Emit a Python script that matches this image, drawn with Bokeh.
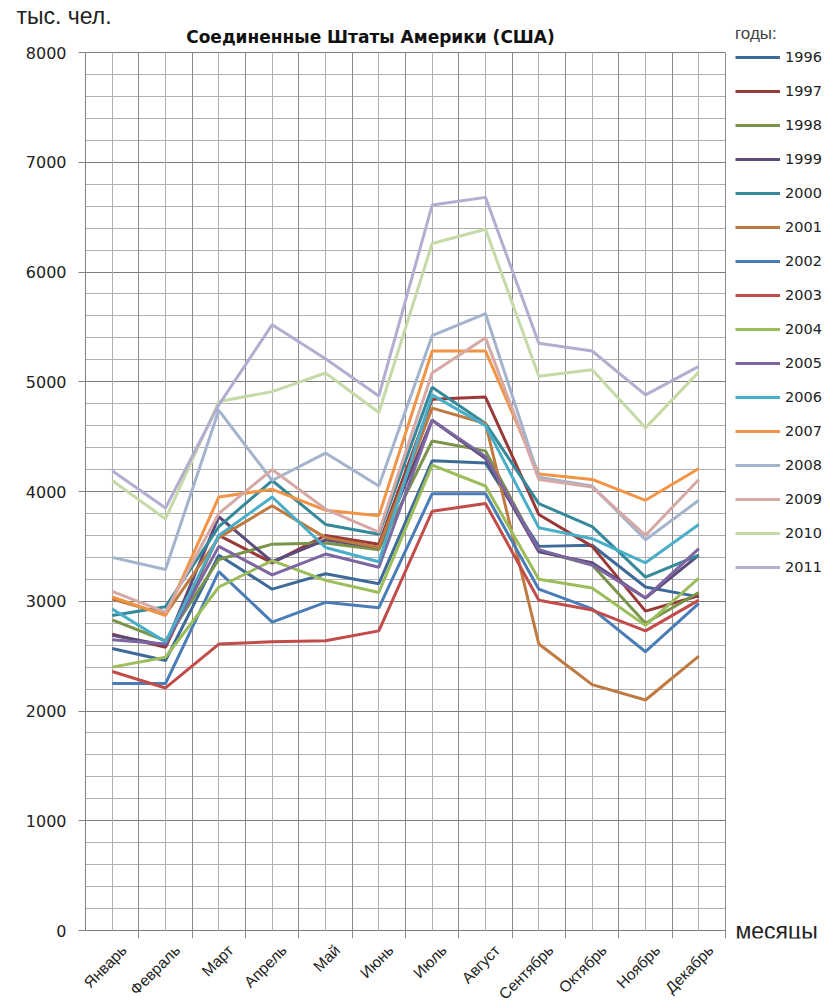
import math
from bokeh.plotting import figure
from bokeh.models import Range1d, FixedTicker, Label, Legend, LegendItem, Grid, Title
from bokeh.embed import file_html
from bokeh.resources import INLINE

months = ["Январь", "Февраль", "Март", "Апрель", "Май", "Июнь",
          "Июль", "Август", "Сентябрь", "Октябрь", "Ноябрь", "Декабрь"]
years = ["1996", "1997", "1998", "1999", "2000", "2001", "2002", "2003",
         "2004", "2005", "2006", "2007", "2008", "2009", "2010", "2011"]

v1996 = [2570, 2460, 3420, 3110, 3250, 3160, 4280, 4260, 3500, 3510, 3130, 3040]
v1997 = [2700, 2580, 3600, 3350, 3600, 3520, 4840, 4860, 3790, 3500, 2910, 3050]
v1998 = [2830, 2640, 3380, 3520, 3530, 3470, 4460, 4370, 3460, 3330, 2800, 3080]
v1999 = [2690, 2600, 3770, 3360, 3560, 3490, 4650, 4300, 3450, 3350, 3030, 3420]
v2000 = [2870, 2950, 3680, 4100, 3700, 3610, 4950, 4620, 3890, 3680, 3220, 3420]
v2001 = [3020, 2880, 3580, 3870, 3580, 3490, 4760, 4620, 2610, 2240, 2100, 2500]
v2002 = [2250, 2250, 3270, 2810, 2990, 2940, 3980, 3980, 3110, 2930, 2540, 2980]
v2003 = [2360, 2210, 2610, 2630, 2640, 2730, 3820, 3890, 3010, 2920, 2730, 3010]
v2004 = [2400, 2490, 3130, 3370, 3190, 3080, 4240, 4050, 3200, 3120, 2780, 3210]
v2005 = [2650, 2610, 3500, 3240, 3430, 3310, 4650, 4320, 3470, 3330, 3030, 3480]
v2006 = [2930, 2630, 3600, 3950, 3490, 3360, 4880, 4600, 3670, 3570, 3350, 3700]
v2007 = [3040, 2870, 3950, 4020, 3830, 3780, 5280, 5280, 4160, 4110, 3920, 4210]
v2008 = [3400, 3290, 4740, 4100, 4350, 4050, 5420, 5620, 4130, 4050, 3560, 3920]
v2009 = [3090, 2900, 3800, 4200, 3840, 3630, 5080, 5400, 4110, 4040, 3600, 4110]
v2010 = [4100, 3750, 4820, 4910, 5080, 4720, 6260, 6390, 5050, 5110, 4580, 5090]
v2011 = [4190, 3850, 4790, 5520, 5210, 4870, 6610, 6680, 5350, 5280, 4880, 5140]

series = [v1996, v1997, v1998, v1999, v2000, v2001, v2002, v2003,
          v2004, v2005, v2006, v2007, v2008, v2009, v2010, v2011]

colors = ["#3D6A98", "#993A38", "#7A944A", "#5C4A7A", "#34899A", "#BE7A40",
          "#4A7DB8", "#C24C4A", "#9BBD5A", "#7D66A2", "#4BAEC8", "#F29445",
          "#A3B4CC", "#D6A9A7", "#C6DAA8", "#B2AED0"]

y_ticks = [0, 1000, 2000, 3000, 4000, 5000, 6000, 7000, 8000]
y_max = 8000

x = list(range(1, 13))

# layout in page pixels
FL, FR, FT, FB = 85, 826, 24, 938     # frame edges
X0PX, Y0PX = 85, 930                   # where x=0.5 and y=0 sit
PX_X = 640 / 12.0
PX_Y = 878 / 8000.0

x_start = 0.5
x_end = 0.5 + (FR - FL) / PX_X
y_start = -(FB - Y0PX) / PX_Y
y_end = (Y0PX - FT) / PX_Y

p = figure(frame_width=FR - FL, frame_height=FB - FT,
           x_range=Range1d(x_start, x_end), y_range=Range1d(y_start, y_end),
           output_backend="svg", toolbar_location=None,
           min_border_left=FL, min_border_top=FT, min_border_right=0,
           min_border_bottom=10)
p.outline_line_color = None
p.background_fill_color = "white"

centers = [float(i) for i in range(1, 13)]
bounds = [i + 0.5 for i in range(1, 13)]
label_pos = [c + 0.22 for c in centers]

# x axis: only the month labels
p.xaxis.ticker = FixedTicker(ticks=label_pos)
p.xaxis.major_label_overrides = {lp: m for lp, m in zip(label_pos, months)}
p.xaxis.major_tick_line_color = None
p.xaxis.minor_tick_line_color = None
p.xaxis.axis_line_color = None
p.xaxis.major_label_orientation = math.pi / 4
p.xaxis.major_label_text_font = "Liberation Sans"
p.xaxis.major_label_text_font_size = "15.5px"
p.xaxis.major_label_text_color = "#222222"
p.xaxis.major_label_standoff = 3

p.xgrid.visible = False
g_major = Grid(dimension=0, ticker=FixedTicker(ticks=bounds),
               grid_line_color="#8a8a8a", cross_bounds=(y_start, y_max))
g_minor = Grid(dimension=0, ticker=FixedTicker(ticks=centers),
               grid_line_color="#b0b0b0", cross_bounds=(0, y_max))
p.add_layout(g_minor)
p.add_layout(g_major)

minor_y = list(range(0, 8001, 200))
p.yaxis.ticker = FixedTicker(ticks=y_ticks, minor_ticks=minor_y)
p.yaxis.bounds = (0, y_max)
p.yaxis.minor_tick_line_color = None
p.yaxis.major_tick_in = 0
p.yaxis.major_tick_out = 7
p.yaxis.major_tick_line_color = "#808080"
p.yaxis.axis_line_color = "#808080"
p.yaxis.major_label_text_font = "DejaVu Sans"
p.yaxis.major_label_text_font_size = "16px"
p.yaxis.major_label_text_color = "#222222"
p.yaxis.major_label_standoff = 12

p.ygrid.ticker = FixedTicker(ticks=y_ticks, minor_ticks=minor_y)
p.ygrid.cross_bounds = (0.5, 12.5)
p.ygrid.grid_line_color = "#7c7c7c"
p.ygrid.minor_grid_line_color = "#b0b0b0"

items = []
for yr, vals, c in zip(years, series, colors):
    r = p.line(x, vals, line_width=3, line_color=c)
    items.append(LegendItem(label=yr, renderers=[r]))

legend = Legend(items=items, location=(735 - FL, FB - 577), title="годы:",
                padding=0, margin=0, spacing=14, glyph_height=20,
                glyph_width=45, label_height=20, label_standoff=5,
                label_text_font="DejaVu Sans", label_text_font_size="14.5px",
                label_text_color="#222222",
                title_text_font="Liberation Sans", title_text_font_size="17px",
                title_text_font_style="normal", title_standoff=3,
                border_line_color=None, background_fill_alpha=0)
p.add_layout(legend)

def xd(px):
    return 0.5 + (px - X0PX) / PX_X

def yd(py):
    return (Y0PX - py) / PX_Y

p.add_layout(Title(text="тыс. чел.", align="left", offset=16 - FL,
                   text_font="Liberation Sans", text_font_size="23px",
                   text_font_style="normal", text_color="#222222",
                   standoff=-8), "above")
p.add_layout(Label(x=xd(370), y=yd(36), text="Соединенные Штаты Америки (США)",
                   text_font="DejaVu Sans", text_font_style="bold",
                   text_font_size="17px", text_baseline="middle", text_align="center",
                   text_color="#111111"))
p.add_layout(Label(x=xd(735), y=0, text="месяцы", text_font="Liberation Sans",
                   text_font_size="23px", text_baseline="middle", text_align="left",
                   text_color="#222222"))

open("out.html", "w").write(file_html(p, INLINE))
